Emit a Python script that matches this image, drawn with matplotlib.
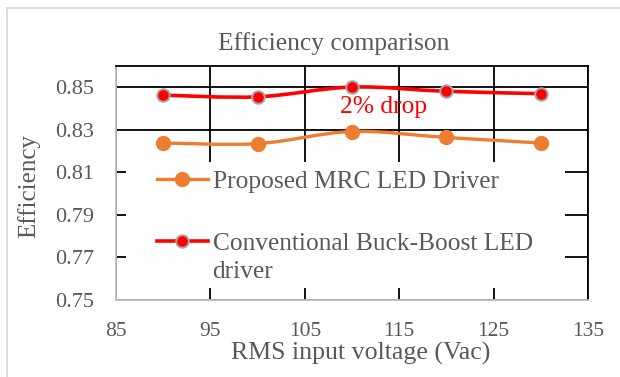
import matplotlib.pyplot as plt
from matplotlib.path import Path
from matplotlib.patches import PathPatch, Rectangle
from matplotlib.lines import Line2D

# RMS input voltage (Vac) and measured efficiency of the two drivers
voltage = [90, 100, 110, 120, 130]
eff_proposed = [0.8238, 0.8235, 0.8292, 0.8264, 0.8238]
eff_conventional = [0.8463, 0.8455, 0.8501, 0.8481, 0.8470]

x_ticks = [85, 95, 105, 115, 125, 135]
y_ticks = [0.75, 0.77, 0.79, 0.81, 0.83, 0.85]

ORANGE = '#ED7D31'
RED = '#FF0000'
TEXT = '#595959'

plt.rcParams['font.family'] = ['Liberation Serif', 'DejaVu Serif']


def smooth_path(xs, ys, tension=1 / 6):
    """Cubic Bezier path through the points, Catmull-Rom style (like Excel's smoothed line)."""
    verts = [(xs[0], ys[0])]
    codes = [Path.MOVETO]
    n = len(xs)
    for i in range(n - 1):
        x0, y0 = (xs[i - 1], ys[i - 1]) if i > 0 else (xs[i], ys[i])
        x1, y1 = xs[i], ys[i]
        x2, y2 = xs[i + 1], ys[i + 1]
        x3, y3 = (xs[i + 2], ys[i + 2]) if i + 2 < n else (x2, y2)
        c1 = (x1 + (x2 - x0) * tension, y1 + (y2 - y0) * tension)
        c2 = (x2 - (x3 - x1) * tension, y2 - (y3 - y1) * tension)
        verts += [c1, c2, (x2, y2)]
        codes += [Path.CURVE4] * 3
    return Path(verts, codes)


fig = plt.figure(figsize=(6.2, 3.77), dpi=100)
ax = fig.add_axes([116 / 620, 1 - 300 / 377, 472 / 620, 234 / 377])

ax.set_xlim(85, 135)
ax.set_ylim(0.75, 0.86)
ax.set_xticks(x_ticks)
ax.set_yticks(y_ticks)
ax.set_xticklabels([str(v) for v in x_ticks])
ax.set_yticklabels([f'{v:.2f}' for v in y_ticks])
ax.tick_params(length=0, labelcolor=TEXT)
ax.tick_params(axis='y', labelsize=16, pad=16)
ax.tick_params(axis='x', labelsize=15.5, pad=16)

# black grid, drawn under the data
ax.set_axisbelow(True)
ax.grid(True, color='black', linewidth=1.3)
for side in ['top', 'right']:
    ax.spines[side].set_color('black')
    ax.spines[side].set_linewidth(1.3)
for side in ['left', 'bottom']:
    ax.spines[side].set_color('#BFBFBF')
    ax.spines[side].set_linewidth(1.3)

ax.add_patch(PathPatch(smooth_path(voltage, eff_proposed), fill=False,
                       edgecolor=ORANGE, linewidth=2.4, zorder=3))
ax.plot(voltage, eff_proposed, linestyle='none', marker='o', markersize=10,
        color=ORANGE, zorder=4)
ax.add_patch(PathPatch(smooth_path(voltage, eff_conventional), fill=False,
                       edgecolor=RED, linewidth=2.6, zorder=3))
ax.plot(voltage, eff_conventional, linestyle='none', marker='o', markersize=9,
        color=RED, markeredgecolor='#A6A6A6', markeredgewidth=1.4, zorder=4)

ax.text(113.3, 0.8407, '2% drop', color=RED, fontsize=18.4,
        ha='center', va='center', zorder=5)

# white legend area over the grid
ax.add_patch(Rectangle((0.021, 0.051), 0.930, 0.538, transform=ax.transAxes,
                       facecolor='white', edgecolor='none', zorder=2))

handles = [
    Line2D([], [], color=ORANGE, linewidth=2.4, marker='o', markersize=10),
    Line2D([], [], color=RED, linewidth=2.6, marker='o', markersize=9,
           markeredgecolor='#A6A6A6', markeredgewidth=1.4),
]
leg = ax.legend(handles, ['Proposed MRC LED Driver', 'Conventional Buck-Boost LED'],
                loc='upper left', bbox_to_anchor=(0.087, 0.555), frameon=False,
                fontsize=18.3, labelcolor=TEXT, handlelength=2.0, handletextpad=0.2,
                labelspacing=1.55, borderpad=0, borderaxespad=0)
leg.set_zorder(6)
ax.text(0.203, 0.12, 'driver', transform=ax.transAxes, fontsize=18.3,
        color=TEXT, ha='left', va='center', zorder=6)

ax.set_xlabel('RMS input voltage (Vac)', fontsize=18.6, color=TEXT, va='baseline')
ax.xaxis.set_label_coords(0.519, -0.256)
ax.set_ylabel('Efficiency', fontsize=18, color=TEXT)
ax.yaxis.set_label_coords(-0.160, 0.489)

fig.text(334 / 620, 1 - 50 / 377, 'Efficiency comparison', fontsize=18.4,
         color=TEXT, ha='center', va='baseline')

# chart area border
fig.add_artist(Line2D([6.5 / 620, 6.5 / 620], [0, 1 - 8 / 377], color='#D9D9D9',
                      linewidth=1.2, transform=fig.transFigure))
fig.add_artist(Line2D([6.5 / 620, 1], [1 - 8 / 377, 1 - 8 / 377], color='#D9D9D9',
                      linewidth=1.2, transform=fig.transFigure))

fig.savefig('out.png', dpi=100)
